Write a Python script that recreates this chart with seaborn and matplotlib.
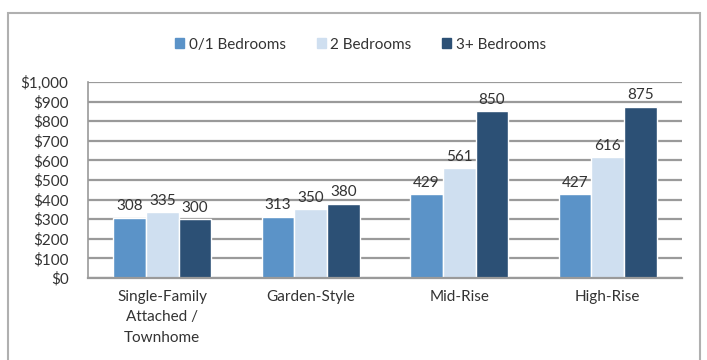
import pandas as pd
import matplotlib
matplotlib.use('Agg')
import matplotlib.pyplot as plt
import matplotlib.patches as mpatches
import seaborn as sns

# Dados do gráfico
categories = ['Single-Family\nAttached /\nTownhome', 'Garden-Style', 'Mid-Rise', 'High-Rise']
series = ['0/1 Bedrooms', '2 Bedrooms', '3+ Bedrooms']
bed01 = [308, 313, 429, 427]
bed2 = [335, 350, 561, 616]
bed3 = [300, 380, 850, 875]
colors = ['#5B93C8', '#CFDFF0', '#2C5075']

records = []
for s, vals in zip(series, [bed01, bed2, bed3]):
    for c, v in zip(categories, vals):
        records.append([c, s, v])
df = pd.DataFrame(records, columns=['Type', 'Beds', 'Rent'])

sns.set_style('white')
plt.rcParams['font.family'] = ['Lato', 'DejaVu Sans']

fig = plt.figure(figsize=(7.07, 3.6), dpi=100)
ax = fig.add_axes([0.1245, 0.228, 0.84, 0.544])

sns.barplot(data=df, x='Type', y='Rent', hue='Beds', palette=colors,
            width=0.66, saturation=1, ax=ax, legend=False)

ax.set_xlim(-0.5, len(categories) - 0.5)
ax.set_ylim(0, 1000)
ax.set_yticks(range(0, 1001, 100))
ax.set_yticklabels(['${:,}'.format(v) for v in range(0, 1001, 100)], fontsize=11, color='#333333')
for lbl in ax.get_xticklabels():
    lbl.set_linespacing(1.55)
# marcas entre as categorias
ax.set_xticks([i + 0.5 for i in range(len(categories) - 1)] + [len(categories) - 0.5], minor=True)
ax.tick_params(axis='x', which='major', labelsize=11, colors='#333333', pad=9, length=0)
ax.tick_params(axis='x', which='minor', length=4, color='#9a9a9a', width=1.2)
ax.tick_params(axis='y', length=4, pad=10, color='#9a9a9a')
ax.set_xlabel('')
ax.set_ylabel('')
ax.yaxis.grid(True, color='#9a9a9a', linewidth=1.6)
ax.set_axisbelow(True)
for side in ['top', 'right']:
    ax.spines[side].set_visible(False)
ax.spines['left'].set_color('#9a9a9a')
ax.spines['bottom'].set_color('#9a9a9a')
ax.spines['left'].set_linewidth(1.2)
ax.spines['bottom'].set_linewidth(1.6)

for cont in ax.containers:
    ax.bar_label(cont, fmt='%d', padding=3, fontsize=11, color='#333333')

handles = [mpatches.Patch(color=c, label=s) for c, s in zip(colors, series)]
fig.legend(handles=handles, loc='center', bbox_to_anchor=(0.51, 0.876), ncol=3,
           frameon=False, fontsize=11, handlelength=0.6, handleheight=0.6,
           handletextpad=0.3, columnspacing=2.0, labelcolor='#333333')

# Moldura do gráfico
fig.patches.append(mpatches.Rectangle((0.012, -0.02), 0.978, 0.985, transform=fig.transFigure,
                                      fill=False, edgecolor='#b0b0b0', linewidth=1.5))

fig.savefig('out.png', dpi=100)
